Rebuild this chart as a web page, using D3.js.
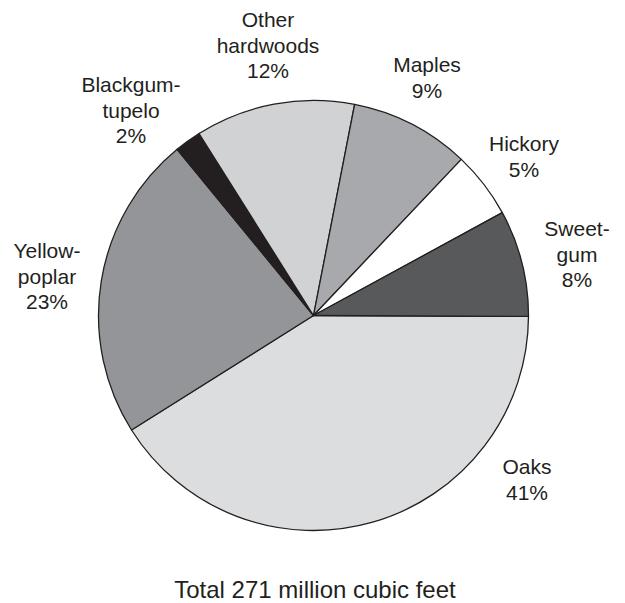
<!DOCTYPE html>
<html>
<head>
<meta charset="utf-8">
<script src="https://cdn.jsdelivr.net/npm/d3@7"></script>
<style>
  html, body { margin: 0; padding: 0; background: #fff; }
  svg { display: block; }
  text { font-family: "Liberation Sans", Arial, Helvetica, sans-serif; fill: #231f20; }
</style>
</head>
<body>
<svg id="chart" width="625" height="603"></svg>
<script>
// Hardwood volume by species group, percent of total
const species = ["Oaks", "Yellow-poplar", "Blackgum-tupelo", "Other hardwoods", "Maples", "Hickory", "Sweetgum"];
const percents = [41, 23, 2, 12, 9, 5, 8];
const fills = ["#dcdddf", "#939598", "#231f20", "#d1d2d4", "#a7a9ac", "#ffffff", "#58595b"];
// Label lines for each slice (name split as printed, then the percent)
const labelLines = [
  ["Oaks"],
  ["Yellow-", "poplar"],
  ["Blackgum-", "tupelo"],
  ["Other", "hardwoods"],
  ["Maples"],
  ["Hickory"],
  ["Sweet-", "gum"]
];
// Label anchor (center x, first baseline y)
const labelPos = [
  [527, 474],
  [47, 258],
  [131, 92],
  [268, 27],
  [427, 72],
  [524, 151],
  [577, 236]
];
const totalLabel = "Total 271 million cubic feet";

const width = 625, height = 603;
const cx = 313.5, cy = 315.5, radius = 215;
const lineH = 25.5;

const svg = d3.select("#chart");

const rows = species.map((s, i) => ({ name: s, value: percents[i], fill: fills[i], lines: labelLines[i], pos: labelPos[i] }));

const pie = d3.pie()
  .value(d => d.value)
  .sort(null)
  .startAngle(Math.PI / 2 + 0.004)
  .endAngle(Math.PI / 2 + 0.004 + 2 * Math.PI);

const arc = d3.arc().innerRadius(0).outerRadius(radius);

const g = svg.append("g").attr("transform", `translate(${cx},${cy})`);

g.selectAll("path")
  .data(pie(rows))
  .join("path")
  .attr("d", arc)
  .attr("fill", d => d.data.fill)
  .attr("stroke", "#231f20")
  .attr("stroke-width", 1.3)
  .attr("stroke-linejoin", "round");

const labels = svg.append("g")
  .selectAll("text")
  .data(rows)
  .join("text")
  .attr("text-anchor", "middle")
  .attr("font-size", 21)
  .attr("x", d => d.pos[0])
  .attr("y", d => d.pos[1]);

labels.each(function (d) {
  const t = d3.select(this);
  const all = d.lines.concat([d.value + "%"]);
  all.forEach((line, j) => {
    t.append("tspan")
      .attr("x", d.pos[0])
      .attr("y", d.pos[1] + j * lineH)
      .text(line);
  });
});

svg.append("text")
  .attr("x", 315)
  .attr("y", 598)
  .attr("text-anchor", "middle")
  .attr("font-size", 24)
  .text(totalLabel);
</script>
</body>
</html>
